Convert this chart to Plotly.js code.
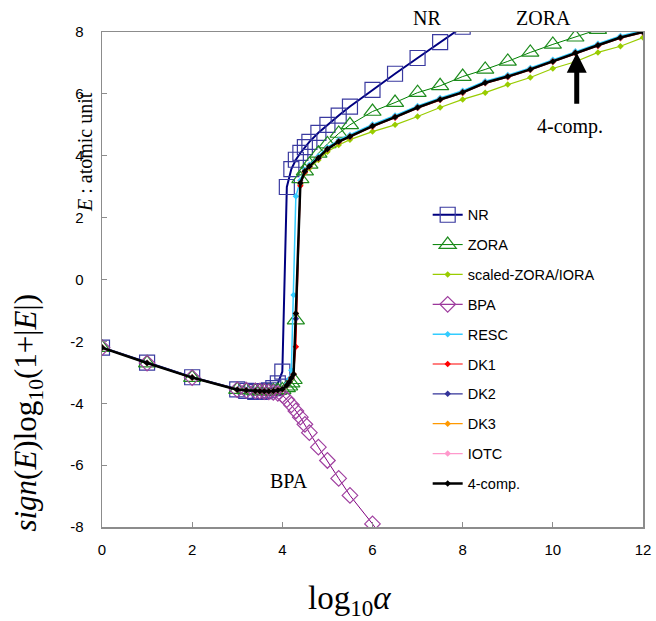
<!DOCTYPE html>
<html>
<head>
<meta charset="utf-8">
<script src="https://cdn.plot.ly/plotly-3.0.1.min.js"></script>
<style>html,body{margin:0;padding:0;background:#fff;}#chart{width:656px;height:621px;}</style>
</head>
<body>
<div id="chart"></div>
<script>
// ---- data ----
var seriesNames = ["NR","ZORA","scaled-ZORA/IORA","BPA","RESC","DK1","DK2","DK3","IOTC","4-comp."];

var nrX = [0,1,2,3,3.2,3.4,3.5,3.6,3.7,3.8,3.9,4.0,4.1,4.2,4.3,4.4,4.5,4.6,4.8,5.0,5.25,5.5,6.0,6.5,7.0,7.5,8.0];
var nrY = [-2.20,-2.69,-3.16,-3.55,-3.60,-3.63,-3.63,-3.61,-3.58,-3.51,-3.36,-2.98,2.99,3.57,3.87,4.09,4.28,4.45,4.74,5.00,5.30,5.59,6.13,6.65,7.16,7.67,8.17];

var zoraX = [0,1,2,3,3.2,3.4,3.5,3.6,3.7,3.8,3.9,4.0,4.1,4.15,4.2,4.25,4.3,4.4,4.5,4.6,4.8,5.0,5.25,5.5,6.0,6.5,7.0,7.5,8.0,8.5,9.0,9.5,10.0,10.5,11.0];
var zoraY = [-2.20,-2.70,-3.17,-3.56,-3.58,-3.60,-3.61,-3.61,-3.61,-3.60,-3.59,-3.57,-3.50,-3.45,-3.35,-3.24,-1.31,3.25,3.50,3.72,4.08,4.38,4.72,5.00,5.43,5.72,6.04,6.26,6.56,6.79,7.05,7.34,7.60,7.83,8.08];

var relX = [0,1,2,3,3.2,3.4,3.5,3.6,3.7,3.8,3.9,4.0,4.1,4.15,4.2,4.25,4.3,4.4,4.5,4.6,4.8,5.0,5.25,5.5,6.0,6.5,7.0,7.5,8.0,8.5,9.0,9.5,10.0,10.5,11.0,11.5,12.0];

var sZoraY = [-2.20,-2.70,-3.17,-3.56,-3.58,-3.60,-3.61,-3.61,-3.61,-3.60,-3.58,-3.55,-3.42,-3.31,-3.18,-3.06,-1.10,3.08,3.45,3.60,3.86,4.13,4.35,4.52,4.78,5.00,5.27,5.56,5.82,6.04,6.30,6.53,6.82,7.04,7.34,7.54,7.82];

var bpaX = [0,1,2,3,3.2,3.4,3.5,3.6,3.7,3.8,3.9,4.0,4.1,4.2,4.3,4.4,4.5,4.6,4.8,5.0,5.25,5.5,6.0,6.5];
var bpaY = [-2.20,-2.70,-3.17,-3.56,-3.58,-3.60,-3.61,-3.62,-3.63,-3.65,-3.68,-3.74,-3.88,-4.05,-4.25,-4.45,-4.68,-4.95,-5.42,-5.85,-6.43,-6.98,-7.90,-8.90];

var rescY = [-2.20,-2.70,-3.17,-3.56,-3.58,-3.60,-3.61,-3.61,-3.61,-3.60,-3.58,-3.54,-3.38,-3.22,-2.93,-0.50,2.69,3.20,3.55,3.71,3.98,4.27,4.51,4.67,5.01,5.30,5.61,5.87,6.10,6.41,6.61,6.84,7.10,7.38,7.62,7.87,8.05];
var dk1Y = [-2.20,-2.70,-3.17,-3.56,-3.58,-3.60,-3.61,-3.61,-3.61,-3.60,-3.58,-3.55,-3.42,-3.31,-3.18,-3.06,-2.17,3.03,3.47,3.64,3.91,4.20,4.44,4.60,4.94,5.23,5.54,5.80,6.03,6.34,6.54,6.77,7.03,7.31,7.55,7.80,7.98];
var dk2Y = [-2.20,-2.70,-3.17,-3.56,-3.58,-3.60,-3.61,-3.61,-3.61,-3.60,-3.58,-3.55,-3.42,-3.31,-3.18,-3.06,-1.27,3.12,3.50,3.66,3.93,4.22,4.46,4.62,4.96,5.25,5.56,5.82,6.05,6.36,6.56,6.79,7.05,7.33,7.57,7.82,8.00];
var dk3Y = [-2.20,-2.70,-3.17,-3.56,-3.58,-3.60,-3.61,-3.61,-3.61,-3.60,-3.58,-3.55,-3.42,-3.31,-3.18,-3.06,-1.10,3.12,3.50,3.66,3.93,4.22,4.46,4.62,4.96,5.25,5.56,5.82,6.05,6.36,6.56,6.79,7.05,7.33,7.57,7.82,8.00];
var iotcY = [-2.20,-2.70,-3.17,-3.56,-3.58,-3.60,-3.61,-3.61,-3.61,-3.60,-3.58,-3.55,-3.42,-3.31,-3.18,-3.06,-1.10,3.12,3.50,3.66,3.93,4.22,4.46,4.62,4.96,5.25,5.56,5.82,6.05,6.36,6.56,6.79,7.05,7.33,7.57,7.82,8.00];
var fourCompY = [-2.20,-2.70,-3.17,-3.56,-3.58,-3.60,-3.61,-3.61,-3.61,-3.60,-3.58,-3.55,-3.42,-3.31,-3.18,-3.06,-1.10,3.12,3.50,3.66,3.93,4.22,4.46,4.62,4.96,5.25,5.56,5.82,6.05,6.36,6.56,6.79,7.05,7.33,7.57,7.82,8.00];

var xTickVals = [0,2,4,6,8,10,12];
var yTickVals = [-8,-6,-4,-2,0,2,4,6,8];
var yTickText = ["-8","-6","-4","-2","0","2","4","6","8"];

// ---- traces ----
function tr(name, x, y, lineColor, lineWidth, symbol, size, markerColor, mLineW) {
  return {
    type: "scatter", mode: "lines+markers", name: name, legendgroup: name,
    x: x, y: y,
    line: {color: lineColor, width: lineWidth},
    marker: {symbol: symbol, size: size, color: markerColor,
             line: {color: markerColor, width: mLineW}}
  };
}
var data = [
  tr(seriesNames[0], nrX, nrY, "#000080", 2, "square-open", 15, "#3a3aa0", 1.2),
  tr(seriesNames[1], zoraX, zoraY, "#008000", 1, "triangle-up-open", 15, "#1e8c1e", 1.2),
  tr(seriesNames[2], relX, sZoraY, "#99cc00", 1.2, "diamond", 5, "#99cc00", 0),
  tr(seriesNames[3], bpaX, bpaY, "#800080", 1, "diamond-open", 12, "#a040a0", 1.2),
  tr(seriesNames[4], relX, rescY, "#33ccff", 1.5, "diamond", 5, "#33ccff", 0),
  tr(seriesNames[5], relX, dk1Y, "#ff0000", 1.2, "diamond", 5, "#ff0000", 0),
  tr(seriesNames[6], relX, dk2Y, "#333399", 1.2, "diamond", 5, "#333399", 0),
  tr(seriesNames[7], relX, dk3Y, "#ff9900", 1.2, "diamond", 5, "#ff9900", 0),
  tr(seriesNames[8], relX, iotcY, "#ff99cc", 1.2, "diamond", 5, "#ff99cc", 0),
  tr(seriesNames[9], relX, fourCompY, "#000000", 2.5, "diamond", 5, "#000000", 0)
];

var serif = "Liberation Serif, Times New Roman, serif";
var sans = "Liberation Sans, Arial, sans-serif";

var layout = {
  width: 656, height: 621,
  margin: {l: 102, r: 13, t: 32, b: 94},
  paper_bgcolor: "#ffffff", plot_bgcolor: "#ffffff",
  showlegend: true,
  legend: {
    x: 0.602, y: 0.663, xanchor: "left", yanchor: "top",
    traceorder: "grouped", tracegroupgap: 8,
    font: {family: sans, size: 14.5, color: "#000"},
    bgcolor: "rgba(0,0,0,0)", itemwidth: 30
  },
  xaxis: {
    range: [0, 12], tickmode: "array", tickvals: xTickVals,
    showgrid: false, zeroline: false,
    showline: true, linecolor: "#8c8c8c", linewidth: 1.5, mirror: true,
    ticks: "inside", ticklen: 5, tickcolor: "#8c8c8c",
    tickfont: {family: sans, size: 15, color: "#000"},
    ticklabelstandoff: 8
  },
  yaxis: {
    range: [-8, 8], tickmode: "array", tickvals: yTickVals, ticktext: yTickText,
    showgrid: false, zeroline: false,
    showline: true, linecolor: "#8c8c8c", linewidth: 1.5, mirror: true,
    ticks: "inside", ticklen: 5, tickcolor: "#8c8c8c",
    tickfont: {family: sans, size: 15, color: "#000"},
    ticklabelstandoff: 14
  },
  annotations: [
    // y-axis title (two parts)
    {xref: "paper", yref: "paper", x: -0.136, y: 0.232, xanchor: "center", yanchor: "middle",
     text: "<i>sign</i>(<i>E</i>)log<sub>10</sub>(1+|<i>E</i>|)",
     textangle: -90, showarrow: false, font: {family: serif, size: 31, color: "#000"}},
    {xref: "paper", yref: "paper", x: -0.031, y: 0.758, xanchor: "center", yanchor: "middle",
     text: "<i>E</i> : atomic unit",
     textangle: -90, showarrow: false, font: {family: serif, size: 20, color: "#000"}},
    // x-axis title
    {xref: "paper", yref: "paper", x: 0.458, y: -0.148, xanchor: "center", yanchor: "middle",
     text: "log<sub>10</sub><i>α</i>", showarrow: false,
     font: {family: serif, size: 33, color: "#000"}},
    // curve labels
    {xref: "paper", yref: "paper", x: 0.600, y: 1.029, xanchor: "center", yanchor: "middle",
     text: "NR", showarrow: false, font: {family: serif, size: 20, color: "#000"}},
    {xref: "paper", yref: "paper", x: 0.817, y: 1.029, xanchor: "center", yanchor: "middle",
     text: "ZORA", showarrow: false, font: {family: serif, size: 20, color: "#000"}},
    {xref: "x", yref: "y", x: 10.38, y: 4.94, text: "4-comp.", showarrow: false,
     font: {family: serif, size: 20, color: "#000"}},
    {xref: "x", yref: "y", x: 10.53, y: 7.33, axref: "x", ayref: "y", ax: 10.53, ay: 5.55,
     text: " ", showarrow: true, arrowhead: 2, arrowsize: 0.8, arrowwidth: 5, arrowcolor: "#000",
     font: {family: serif, size: 4, color: "#000"}},
    {xref: "x", yref: "y", x: 4.14, y: -6.5, text: "BPA", showarrow: false,
     font: {family: serif, size: 20, color: "#000"}}
  ]
};

Plotly.newPlot("chart", data, layout, {displayModeBar: false, staticPlot: true});
</script>
</body>
</html>
